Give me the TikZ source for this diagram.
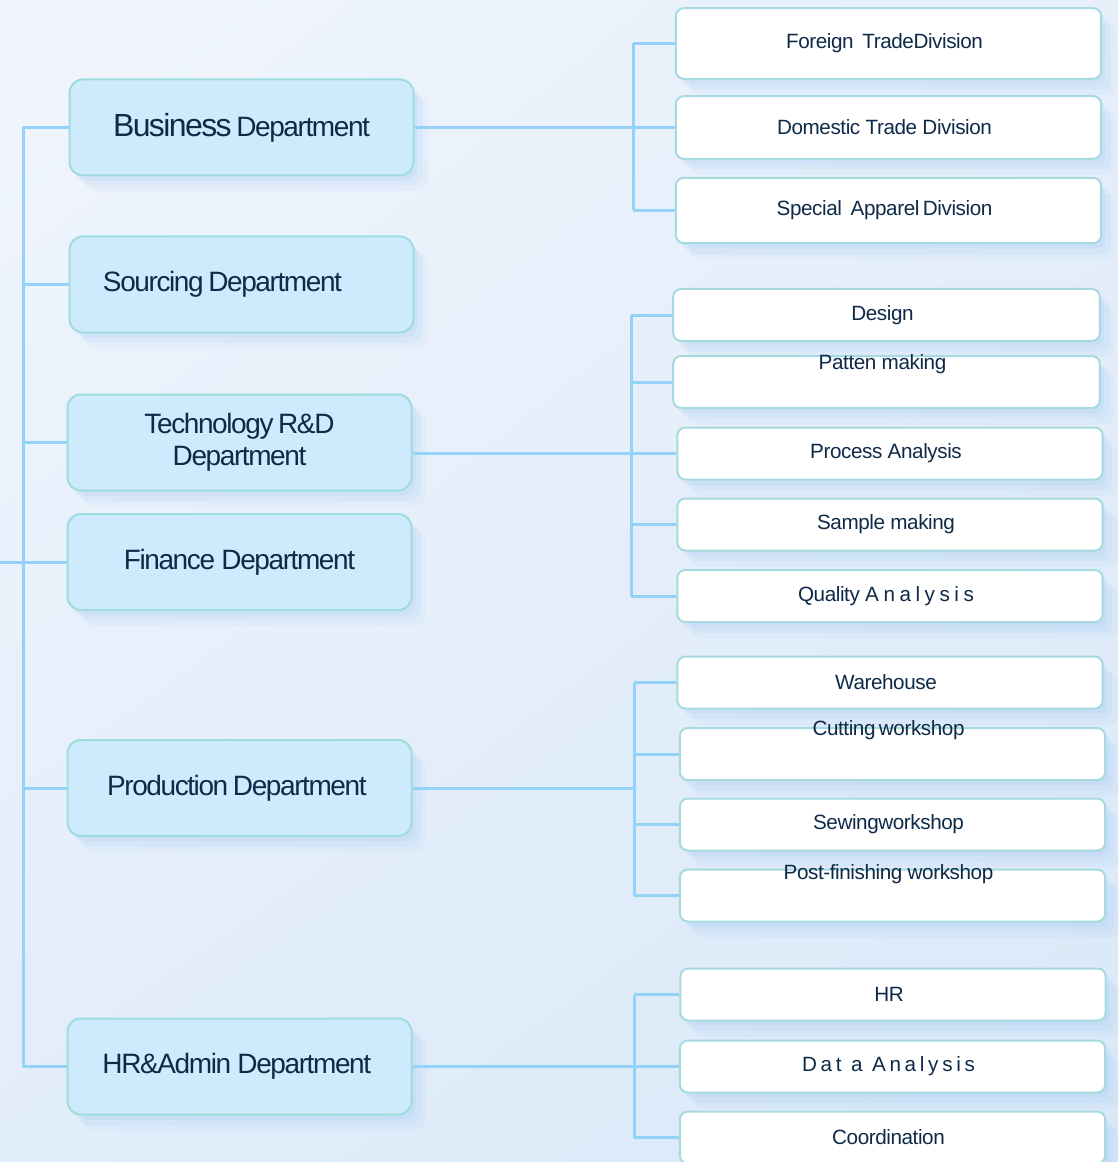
\documentclass[tikz,border=0pt]{standalone}
\usepackage{fontspec}
\setmainfont{Liberation Sans}
\usetikzlibrary{positioning,calc,shadings}
\definecolor{ink}{RGB}{14,42,72}
\definecolor{deptfill}{RGB}{205,235,252}
\definecolor{deptline}{RGB}{158,220,222}
\definecolor{unitline}{RGB}{166,218,222}
\definecolor{linkc}{RGB}{148,210,250}
\definecolor{glowc}{RGB}{140,190,240}
\definecolor{bgA}{RGB}{241,245,253}
\definecolor{bgB}{RGB}{230,239,250}
\definecolor{bgC}{RGB}{226,237,250}
\definecolor{bgD}{RGB}{217,232,248}

\begin{document}
\begin{tikzpicture}[x=0.75pt,y=-0.75pt,
  glow/.style={preaction={fill=glowc,draw=none,fill opacity=.12,transform canvas={xshift=3pt,yshift=-4pt}},
               preaction={fill=glowc,draw=none,fill opacity=.10,transform canvas={xshift=7pt,yshift=-8pt}},
               preaction={fill=glowc,draw=none,fill opacity=.08,transform canvas={xshift=11pt,yshift=-12pt}}},
  dept/.style={glow,draw=deptline,fill=deptfill,line width=1.5pt,rounded corners=10pt,minimum width=258pt,minimum height=72pt,align=center,text=ink,font=\fontsize{21}{24}\selectfont\addfontfeature{LetterSpace=-5}},
  unit/.style={glow,draw=unitline,fill=white,line width=1.5pt,rounded corners=6pt,minimum width=319pt,minimum height=39pt,text=ink,font=\fontsize{15.5}{18}\selectfont\addfontfeature{LetterSpace=-2},execute at end node={\kern6pt}},
  toplabel/.style={anchor=center,xshift=-3pt,text=ink,font=\fontsize{15.5}{18}\selectfont\addfontfeature{LetterSpace=-2}},
  link/.style={draw=linkc,line width=2.25pt}]
  \useasboundingbox (0,0) rectangle (1118,1162);
  \shade[upper left=bgA,upper right=bgB,lower left=bgC,lower right=bgD] (0,0) rectangle (1118,1162);

  % departments
  \node[dept] (biz) at (241.5,127.5) {{\fontsize{24}{26}\selectfont Business}\,Department};
  \node[dept] (src) at (241.5,284.5) {\hbox{Sourcing\,Department\kern28.5pt}};
  \node[dept] (tech) at (239.5,442.5) {Technology\,R\&D\\Department};
  \node[dept] (fin) at (239.5,562) {Finance Department};
  \node[dept] (prod) at (239.5,788) {\hbox{Production\,Department\kern4pt}};
  \node[dept] (hra) at (239.5,1066.5) {\hbox{HR\&Admin Department\kern4pt}};

  % business divisions
  \node[unit,minimum height=53pt] (ftd) at (888.5,43.5) {Foreign~\,TradeDivision};
  \node[unit,minimum height=47pt] (dtd) at (888.5,127.5) {Domestic Trade Division};
  \node[unit,minimum height=49pt] (sad) at (888.5,210.5) {Special~\,Apparel\,Division};

  % technology units
  \node[unit,minimum width=320pt] (dsg) at (886.5,315) {Design};
  \node[unit,minimum width=320pt,label={[toplabel,yshift=-6.75pt]north:Patten making}] (pat) at (886.5,382) {};
  \node[unit] (proc) at (890,453.5) {Process Analysis};
  \node[unit] (smp) at (890,524.5) {Sample making};
  \node[unit] (qa) at (890,596) {Quality {\addfontfeature{LetterSpace=22}Analysis}};

  % production units
  \node[unit] (wh) at (890,682.5) {Warehouse};
  \node[unit,label={[toplabel,yshift=-2.25pt]north:Cutting\,workshop}] (cut) at (892.5,754) {};
  \node[unit] (sew) at (892.5,824.5) {Sewingworkshop};
  \node[unit,label={[toplabel,yshift=-4.25pt]north:Post-finishing workshop}] (post) at (892.5,895.5) {};

  % hr units
  \node[unit] (hr) at (893,994.5) {HR};
  \node[unit] (data) at (892.5,1066.5) {{\addfontfeature{LetterSpace=18}Dat a Analysis}};
  \node[unit] (coo) at (892.5,1137.5) {Coordination};

  % trunk
  \coordinate (trunk) at (23,0);
  \coordinate (root) at (0,562);
  \foreach \d in {biz,src,tech,fin,prod,hra}
    \draw[link] (\d.west) -- (\d.west -| trunk);
  \draw[link] (biz.west -| trunk) -- (hra.west -| trunk);
  \draw[link] (root) -- (fin.west);

  % business bus
  \coordinate (bus1) at (633,0);
  \draw[link] (biz.east) -- (biz.east -| dtd.west);
  \foreach \u in {ftd,dtd,sad}
    \draw[link] (\u.west) -- (\u.west -| bus1);
  \draw[link] (ftd.west -| bus1) -- (sad.west -| bus1);

  % technology bus
  \coordinate (bus2) at (631,0);
  \draw[link] (tech.east |- proc.west) -- (proc.west);
  \foreach \u in {dsg,pat,smp,qa}
    \draw[link] (\u.west) -- (\u.west -| bus2);
  \draw[link] (dsg.west -| bus2) -- (qa.west -| bus2);

  % production bus
  \coordinate (bus3) at (634,0);
  \draw[link] (prod.east) -- (prod.east -| bus3);
  \foreach \u in {wh,cut,sew,post}
    \draw[link] (\u.west) -- (\u.west -| bus3);
  \draw[link] (wh.west -| bus3) -- (post.west -| bus3);

  % hr bus
  \coordinate (bus4) at (634,0);
  \draw[link] (hra.east) -- (hra.east -| data.west);
  \foreach \u in {hr,coo}
    \draw[link] (\u.west) -- (\u.west -| bus4);
  \draw[link] (hr.west -| bus4) -- (coo.west -| bus4);
\end{tikzpicture}
\end{document}
